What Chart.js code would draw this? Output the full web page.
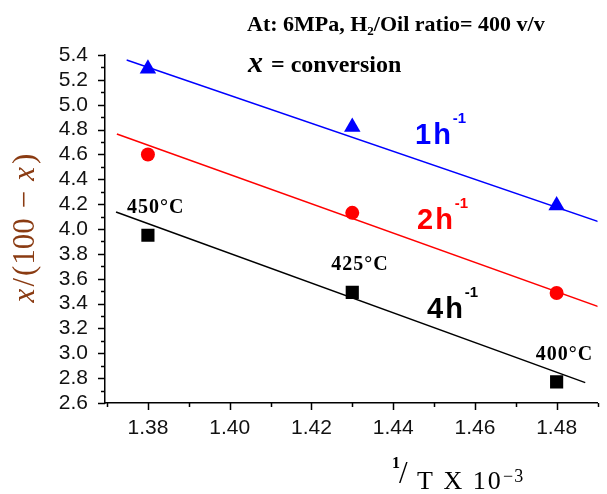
<!DOCTYPE html>
<html><head><meta charset="utf-8">
<script src="https://cdn.jsdelivr.net/npm/chart.js"></script>
<style>html,body{margin:0;padding:0;background:#fff;}#wrap{width:607px;height:494px;}</style>
</head><body><div id="wrap"><canvas id="c" width="607" height="494"></canvas></div>
<script>
// ---- data ----
const invT = [1.38, 1.43, 1.48];                 // 1/T x 10^-3
const tempLabels = ['450°C', '425°C', '400°C'];
const conv1h = [5.29, 4.82, 4.19];               // LHSV 1 h^-1
const conv2h = [4.60, 4.13, 3.485];              // LHSV 2 h^-1
const conv4h = [3.95, 3.49, 2.77];               // LHSV 4 h^-1
// trend line end points (as drawn in the reference)
const fitX1 = [1.3748, 1.4902], fit1h = [5.36, 4.06];
const fitX2 = [1.3724, 1.4902], fit2h = [4.764, 3.375];
const fitX4 = [1.3722, 1.487],  fit4h = [4.137, 2.764];
const xTickLabels = ['1.38', '1.40', '1.42', '1.44', '1.46', '1.48'];
const yTickLabels = ['2.6','2.8','3.0','3.2','3.4','3.6','3.8','4.0','4.2','4.4','4.6','4.8','5.0','5.2','5.4'];
const seriesNames = ['1h', '2h', '4h'];
const seriesColors = ['#0000ff', '#ff0000', '#000000'];

const pts = (xs, ys) => xs.map((x, i) => ({x: x, y: ys[i]}));

const SERIF = '"Liberation Serif", "Times New Roman", serif';
const SANS = '"Liberation Sans", Arial, sans-serif';

function drawSegs(ctx, segs, x, y) {
  let cx = x;
  segs.forEach(s => {
    ctx.font = s.font;
    ctx.fillText(s.t, cx, y + (s.dy || 0));
    cx += ctx.measureText(s.t).width + (s.gap || 0);
  });
  return cx;
}

const annot = {
  id: 'annot',
  afterDraw(chart) {
    const ctx = chart.ctx, xs = chart.scales.x, ys = chart.scales.y, ca = chart.chartArea;
    ctx.save();
    // minor + major ticks
    ctx.strokeStyle = '#000'; ctx.lineWidth = 1.5;
    ctx.beginPath();
    for (let i = 0; i <= 12; i++) {
      const v = 1.37 + i * 0.01;
      if (v < xs.min - 1e-9 || v > xs.max + 1e-9) continue;
      const px = Math.round(xs.getPixelForValue(v)) + 0.5;
      const len = (i % 2 === 1) ? 7 : 4;
      ctx.moveTo(px, ca.bottom); ctx.lineTo(px, ca.bottom + len);
    }
    for (let i = 0; i <= 28; i++) {
      const v = 2.6 + i * 0.1;
      const py = Math.round(ys.getPixelForValue(v)) + 0.5;
      const len = (i % 2 === 0) ? 7 : 4;
      ctx.moveTo(ca.left, py); ctx.lineTo(ca.left - len, py);
    }
    ctx.stroke();

    ctx.textBaseline = 'alphabetic';
    ctx.textAlign = 'left';
    // header
    ctx.fillStyle = '#000';
    drawSegs(ctx, [
      {t: 'At: 6MPa, H', font: 'bold 22px ' + SERIF},
      {t: '2', font: 'bold 13px ' + SERIF, dy: 4},
      {t: '/Oil ratio= 400 v/v', font: 'bold 22px ' + SERIF}
    ], 247, 31);
    drawSegs(ctx, [
      {t: 'x', font: 'bold italic 30px ' + SERIF, gap: 8},
      {t: '= conversion', font: 'bold 24px ' + SERIF}
    ], 248, 72);

    // temperature labels near black points
    ctx.font = 'bold 20px ' + SERIF;
    if ('letterSpacing' in ctx) ctx.letterSpacing = '1px';
    invT.forEach((x, i) => {
      const px = xs.getPixelForValue(x), py = ys.getPixelForValue(conv4h[i]);
      ctx.fillText(tempLabels[i], px - 21, py - 22);
    });

    // series labels
    const lab = [[415, 144], [417, 229], [427, 318]];
    seriesNames.forEach((n, i) => {
      ctx.fillStyle = seriesColors[i];
      if ('letterSpacing' in ctx) ctx.letterSpacing = '2px';
      ctx.font = 'bold 29px ' + SANS;
      ctx.fillText(n, lab[i][0], lab[i][1]);
      const w = ctx.measureText(n).width;
      if ('letterSpacing' in ctx) ctx.letterSpacing = '0px';
      ctx.font = 'bold 15px ' + SANS;
      ctx.fillText('-1', lab[i][0] + w, lab[i][1] - 21);
    });
    if ('letterSpacing' in ctx) ctx.letterSpacing = '0px';

    // x axis title
    ctx.fillStyle = '#000';
    ctx.font = 'bold 16px ' + SERIF; ctx.fillText('1', 392, 468);
    ctx.font = '31px ' + SERIF; ctx.fillText('/', 399, 483);
    if ('letterSpacing' in ctx) ctx.letterSpacing = '2px';
    ctx.font = '26px ' + SERIF; ctx.fillText('T X 10', 417, 489);
    if ('letterSpacing' in ctx) ctx.letterSpacing = '1px';
    ctx.font = '18px ' + SERIF; ctx.fillText('\u22123', 503, 482);
    if ('letterSpacing' in ctx) ctx.letterSpacing = '0px';

    // y axis title (rotated)
    ctx.save();
    ctx.translate(34, 228);
    ctx.rotate(-Math.PI / 2);
    ctx.fillStyle = '#8a3b12';
    const F = '31px ' + SERIF, FI = 'italic 31px ' + SERIF;
    const segs = [
      {t: 'x', font: FI, gap: 2},
      {t: '/', font: F, gap: 2},
      {t: '(', font: F, gap: 1},
      {t: '100', font: F, gap: 10},
      {t: '\u2212', font: F, gap: 10},
      {t: 'x', font: FI, gap: 3},
      {t: ')', font: F}
    ];
    let tot = 0;
    segs.forEach(s => { ctx.font = s.font; tot += ctx.measureText(s.t).width + (s.gap || 0); });
    drawSegs(ctx, segs, -tot / 2, 0);
    ctx.restore();

    ctx.restore();
  }
};

new Chart(document.getElementById('c'), {
  type: 'scatter',
  data: {
    datasets: [
      {data: pts(invT, conv1h), pointStyle: 'triangle', pointRadius: 9.5, backgroundColor: seriesColors[0], borderColor: seriesColors[0], borderWidth: 0, showLine: false, order: 0},
      {data: pts(invT, conv2h), pointStyle: 'circle', pointRadius: 7, backgroundColor: seriesColors[1], borderColor: seriesColors[1], borderWidth: 0, showLine: false, order: 1},
      {data: pts(invT, conv4h), pointStyle: 'rect', pointRadius: 9.3, backgroundColor: seriesColors[2], borderColor: seriesColors[2], borderWidth: 0, showLine: false, order: 2},
      {data: pts(fitX1, fit1h), showLine: true, borderColor: seriesColors[0], borderWidth: 1.5, pointRadius: 0, order: 5},
      {data: pts(fitX2, fit2h), showLine: true, borderColor: seriesColors[1], borderWidth: 1.5, pointRadius: 0, order: 6},
      {data: pts(fitX4, fit4h), showLine: true, borderColor: seriesColors[2], borderWidth: 1.5, pointRadius: 0, order: 7}
    ]
  },
  options: {
    responsive: false, animation: false, devicePixelRatio: 1,
    layout: {padding: {top: 55, right: 7, left: 0, bottom: 0}},
    plugins: {legend: {display: false}, tooltip: {enabled: false}},
    scales: {
      x: {
        type: 'linear', min: 1.3695, max: 1.49,
        afterBuildTicks: s => { s.ticks = xTickLabels.map(v => ({value: parseFloat(v)})); },
        afterFit: s => { s.height = 91; },
        grid: {display: false, drawTicks: false},
        border: {display: true, color: '#000', width: 1.5},
        ticks: {font: {family: SANS, size: 21}, color: '#111', padding: 13, maxRotation: 0, autoSkip: false,
                callback: v => xTickLabels.find(t => Math.abs(parseFloat(t) - v) < 1e-6) || ''}
      },
      y: {
        type: 'linear', min: 2.6, max: 5.4,
        afterBuildTicks: s => { s.ticks = yTickLabels.map(v => ({value: parseFloat(v)})); },
        afterFit: s => { s.width = 105; },
        grid: {display: false, drawTicks: false},
        border: {display: true, color: '#000', width: 1.5},
        ticks: {font: {family: SANS, size: 21}, color: '#111', padding: 17, autoSkip: false,
                callback: v => yTickLabels.find(t => Math.abs(parseFloat(t) - v) < 1e-6) || ''}
      }
    }
  },
  plugins: [annot]
});
</script>
</body></html>
